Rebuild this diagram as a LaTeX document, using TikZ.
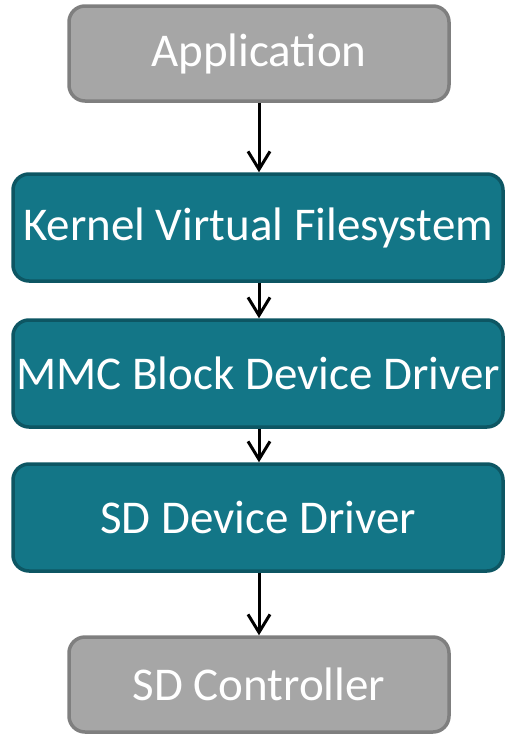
\documentclass[tikz,border=0pt]{standalone}
\usepackage{fontspec}
\setmainfont{Carlito}
\usetikzlibrary{arrows.meta}
\definecolor{tealfill}{RGB}{19,118,135}
\definecolor{tealedge}{RGB}{13,86,99}
\definecolor{grayfill}{RGB}{166,166,166}
\definecolor{grayedge}{RGB}{127,127,127}
\tikzset{
  layer/.style={draw=tealedge, fill=tealfill, line width=3.5pt, rounded corners=16pt,
    text=white, font=\fontsize{47}{51}\selectfont, inner sep=0pt,
    minimum width=490pt, minimum height=107pt},
  hw/.style={draw=grayedge, fill=grayfill, line width=3.5pt, rounded corners=16pt,
    text=white, font=\fontsize{47}{51}\selectfont, inner sep=0pt,
    minimum width=380pt, minimum height=95pt},
  flow/.style={-{Straight Barb[length=18pt,width=22pt,line width=3pt]}, line width=3pt, black}
}
\begin{document}
\begin{tikzpicture}[x=1pt,y=-1pt]
  \useasboundingbox (0,0) rectangle (506,734);
  \node[hw]    (app)  at (259,53.5)  {Application};
  \node[layer] (vfs)  at (258,227.5) {Kernel Virtual Filesystem};
  \node[layer] (mmc)  at (258,373.5) {MMC Block Device Driver};
  \node[layer] (sddd) at (258,517.5) {SD Device Driver};
  \node[hw]    (ctrl) at (259,684.5) {SD Controller};
  \draw[flow] (app.south -| 259,0) -- (vfs.north -| 259,0);
  \draw[flow] (vfs.south -| 259,0) -- (mmc.north -| 259,0);
  \draw[flow] (mmc.south -| 259,0) -- (sddd.north -| 259,0);
  \draw[flow] (sddd.south -| 259,0) -- (ctrl.north -| 259,0);
\end{tikzpicture}
\end{document}
